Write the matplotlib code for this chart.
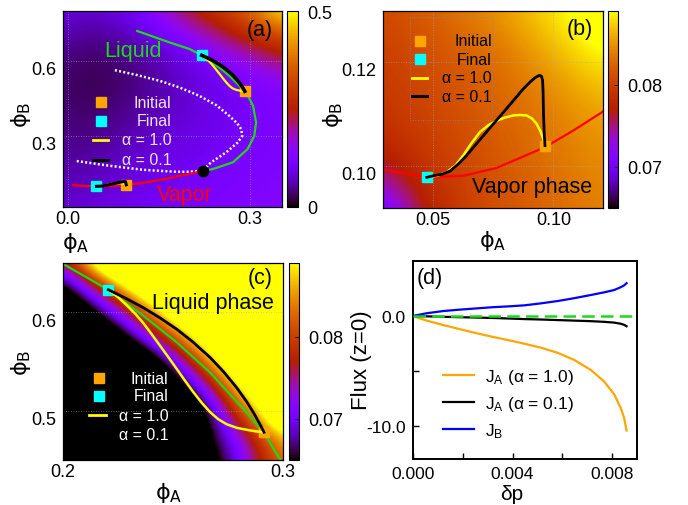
import numpy as np
import matplotlib
matplotlib.use("Agg")
import matplotlib.pyplot as plt
from matplotlib.patches import Rectangle
from matplotlib.transforms import ScaledTranslation

plt.rcParams["font.family"] = ["Liberation Sans", "DejaVu Sans"]
plt.rcParams["mathtext.fontset"] = "custom"
plt.rcParams["mathtext.rm"] = "Liberation Sans"
plt.rcParams["mathtext.it"] = "Liberation Sans:italic"
plt.rcParams["axes.unicode_minus"] = False

ORANGE = "#FFA500"
CYAN = "#00FFFF"
YELLOW = "#FFFF00"
GREEN = "#1ED81E"
RED = "#FF0000"

# liquid binodal (green), from the critical point upwards
liq_x = [0.2226, 0.239, 0.272, 0.296, 0.307, 0.310, 0.305, 0.2986, 0.291, 0.282,
         0.2668, 0.2517, 0.2365, 0.2206, 0.2009, 0.168, 0.1145]
liq_y = [0.159, 0.167, 0.194, 0.247, 0.300, 0.354, 0.420, 0.4515, 0.479, 0.502,
         0.5391, 0.5694, 0.5963, 0.6225, 0.6475, 0.674, 0.720]

# vapor binodal (red)
vap_x = [0.0095, 0.0283, 0.0476, 0.0627, 0.0765, 0.0965, 0.1082, 0.120, 0.135,
         0.160, 0.184, 0.205, 0.2226]
vap_y = [0.1020, 0.0994, 0.0978, 0.0981, 0.0996, 0.1036, 0.1068, 0.1103, 0.116,
         0.127, 0.140, 0.150, 0.159]

# spinodal (white dotted)
spin_x = [0.078, 0.115, 0.152, 0.185, 0.217, 0.245, 0.266, 0.279, 0.2856, 0.2872,
          0.280, 0.261, 0.236, 0.2226, 0.200, 0.179, 0.124, 0.0697, 0.0123]
spin_y = [0.563, 0.543, 0.520, 0.493, 0.460, 0.422, 0.380, 0.350, 0.327, 0.300,
          0.274, 0.234, 0.194, 0.160, 0.156, 0.156, 0.164, 0.180, 0.200]

crit = (0.2226, 0.159)

# vapor-side trajectories
vap_init = (0.0965, 0.1039)
vap_final = (0.0476, 0.0978)
vap_a1_x = [0.0476, 0.0520, 0.0559, 0.0595, 0.0627, 0.0660, 0.0696, 0.0730, 0.0765,
            0.0800, 0.0834, 0.0862, 0.0889, 0.0912, 0.0930, 0.0946, 0.0958, 0.0965]
vap_a1_y = [0.0978, 0.0981, 0.0988, 0.1001, 0.1020, 0.1043, 0.1065, 0.1078, 0.1087,
            0.1093, 0.1097, 0.1098, 0.1097, 0.1091, 0.1081, 0.1067, 0.1052, 0.1039]
vap_a01_x = [0.0476, 0.0503, 0.0540, 0.0572, 0.0605, 0.0641, 0.0675, 0.0710, 0.0750,
             0.0793, 0.0835, 0.0875, 0.0905, 0.0925, 0.0941, 0.0950, 0.0955, 0.0957,
             0.0959, 0.0962, 0.0965]
vap_a01_y = [0.0978, 0.0981, 0.0984, 0.0990, 0.1003, 0.1020, 0.1039, 0.1058, 0.1080,
             0.1103, 0.1126, 0.1148, 0.1162, 0.1170, 0.1174, 0.1173, 0.1165, 0.1145,
             0.1100, 0.1060, 0.1039]

# liquid-side trajectories
liq_init = (0.2914, 0.4785)
liq_final = (0.2206, 0.6225)
liq_a1_x = [0.2206, 0.2250, 0.2290, 0.2330, 0.2365, 0.2400, 0.2440, 0.2480, 0.2517,
            0.2555, 0.2592, 0.2630, 0.2668, 0.2705, 0.2744, 0.2790, 0.2835, 0.2875, 0.2914]
liq_a1_y = [0.6225, 0.6150, 0.6068, 0.5978, 0.5888, 0.5785, 0.5663, 0.5540, 0.5425,
            0.5305, 0.5192, 0.5085, 0.4990, 0.4918, 0.4866, 0.4830, 0.4810, 0.4795, 0.4785]
liq_a01_x = [0.2206, 0.2290, 0.2365, 0.2440, 0.2517, 0.2590, 0.2668, 0.2730, 0.2790,
             0.2835, 0.2870, 0.2895, 0.2914]
liq_a01_y = [0.6225, 0.6133, 0.6043, 0.5942, 0.5826, 0.5698, 0.5542, 0.5396, 0.5234,
             0.5094, 0.4968, 0.4866, 0.4785]

# background fields (rows bottom -> top)
field_a_x = [-0.01, 0.035, 0.08, 0.125, 0.17, 0.215, 0.26, 0.305, 0.35]
field_a_y = [0.0, 0.1, 0.2, 0.3, 0.4, 0.5, 0.6, 0.7, 0.8]
field_a = [
    [0.075, 0.085, 0.095, 0.105, 0.115, 0.120, 0.125, 0.130, 0.135],
    [0.065, 0.072, 0.082, 0.092, 0.102, 0.110, 0.118, 0.124, 0.130],
    [0.055, 0.058, 0.070, 0.082, 0.092, 0.100, 0.110, 0.118, 0.124],
    [0.045, 0.043, 0.055, 0.070, 0.082, 0.092, 0.102, 0.112, 0.120],
    [0.040, 0.033, 0.042, 0.056, 0.072, 0.086, 0.098, 0.110, 0.122],
    [0.036, 0.026, 0.033, 0.048, 0.066, 0.084, 0.100, 0.116, 0.135],
    [0.042, 0.030, 0.036, 0.050, 0.072, 0.098, 0.128, 0.165, 0.215],
    [0.062, 0.048, 0.055, 0.075, 0.110, 0.160, 0.220, 0.275, 0.330],
    [0.085, 0.075, 0.088, 0.120, 0.195, 0.265, 0.320, 0.380, 0.500],
]

field_b_x = [0.03, 0.045, 0.06, 0.075, 0.09, 0.105, 0.12]
field_b_y = [0.090, 0.098, 0.106, 0.114, 0.122, 0.130]
field_b = [
    [0.0680, 0.0760, 0.0795, 0.0810, 0.0820, 0.0830, 0.0840],
    [0.0750, 0.0785, 0.0800, 0.0815, 0.0825, 0.0835, 0.0845],
    [0.0785, 0.0800, 0.0810, 0.0820, 0.0830, 0.0840, 0.0850],
    [0.0795, 0.0805, 0.0815, 0.0825, 0.0835, 0.0850, 0.0865],
    [0.0800, 0.0810, 0.0820, 0.0830, 0.0850, 0.0870, 0.0890],
    [0.0810, 0.0820, 0.0835, 0.0850, 0.0870, 0.0890, 0.0920],
]

field_c_x = [0.20, 0.21, 0.22, 0.23, 0.24, 0.25, 0.26, 0.27, 0.28, 0.29, 0.30]
field_c_y = [0.45, 0.47, 0.49, 0.51, 0.53, 0.55, 0.57, 0.59, 0.61, 0.63, 0.65]
field_c = [
    [0.041, 0.041, 0.041, 0.041, 0.045, 0.052, 0.058, 0.064, 0.070, 0.077, 0.083],
    [0.041, 0.041, 0.041, 0.041, 0.045, 0.052, 0.059, 0.066, 0.072, 0.079, 0.086],
    [0.041, 0.041, 0.041, 0.041, 0.041, 0.050, 0.059, 0.068, 0.077, 0.086, 0.095],
    [0.041, 0.041, 0.041, 0.041, 0.044, 0.054, 0.063, 0.073, 0.083, 0.092, 0.102],
    [0.041, 0.041, 0.041, 0.042, 0.051, 0.061, 0.071, 0.080, 0.090, 0.100, 0.109],
    [0.041, 0.041, 0.041, 0.051, 0.060, 0.070, 0.079, 0.088, 0.098, 0.107, 0.113],
    [0.041, 0.046, 0.054, 0.063, 0.071, 0.079, 0.087, 0.096, 0.104, 0.112, 0.113],
    [0.048, 0.056, 0.064, 0.072, 0.080, 0.088, 0.096, 0.104, 0.112, 0.113, 0.113],
    [0.057, 0.065, 0.073, 0.081, 0.089, 0.098, 0.106, 0.113, 0.113, 0.113, 0.113],
    [0.065, 0.074, 0.083, 0.092, 0.101, 0.110, 0.113, 0.113, 0.113, 0.113, 0.113],
    [0.076, 0.087, 0.098, 0.109, 0.113, 0.113, 0.113, 0.113, 0.113, 0.113, 0.113],
]

# panel (d): flux at z=0 vs pressure step
dp = [0, 0.00056, 0.00122, 0.00189, 0.00255, 0.00321, 0.00388, 0.00448, 0.00514,
      0.00581, 0.00647, 0.00714, 0.00767, 0.00807, 0.00833, 0.00847, 0.00857]
ja_10 = [0, -0.42, -0.82, -1.20, -1.56, -1.90, -2.22, -2.52, -2.88, -3.35, -3.99,
         -4.91, -5.95, -7.11, -8.33, -9.25, -10.41]
ja_01 = [0, -0.03, -0.07, -0.11, -0.14, -0.18, -0.23, -0.28, -0.32, -0.37, -0.42,
         -0.47, -0.53, -0.60, -0.70, -0.80, -0.93]
jb = [0, 0.25, 0.45, 0.58, 0.69, 0.80, 0.88, 0.97, 1.15, 1.36, 1.62, 1.91, 2.15,
      2.36, 2.61, 2.78, 2.98]

fig = plt.figure(figsize=(6.88, 5.06), dpi=100)
W, H = 688.0, 506.0


def box(x0, y0, x1, y1):
    return [x0 / W, 1 - y1 / H, (x1 - x0) / W, (y1 - y0) / H]


ax_a = fig.add_axes(box(63, 12, 282, 208))
cax_a = fig.add_axes(box(287, 12, 298, 208))
ax_b = fig.add_axes(box(383, 12, 603, 209))
cax_b = fig.add_axes(box(608, 12, 618, 209))
ax_c = fig.add_axes(box(63, 264, 283, 461))
cax_c = fig.add_axes(box(289, 264, 299, 461))
ax_d = fig.add_axes(box(412.7, 262, 637.3, 460))


def heat(ax, cax, field, xn, yn, vmin, vmax, cticks, clabels):
    dx = xn[1] - xn[0]
    dy = yn[1] - yn[0]
    im = ax.imshow(np.array(field), origin="lower", cmap="gnuplot", vmin=vmin, vmax=vmax,
                   extent=(xn[0] - dx / 2, xn[-1] + dx / 2, yn[0] - dy / 2, yn[-1] + dy / 2),
                   interpolation="bicubic", interpolation_stage="data", aspect="auto", zorder=0)
    cb = fig.colorbar(im, cax=cax)
    cb.set_ticks(cticks, labels=clabels)
    cb.ax.tick_params(labelsize=13, length=3, width=0.6, direction="in", pad=7)
    cb.outline.set_linewidth(0.8)
    ax.grid(True, ls=(0, (1, 2)), color="#aaaaaa", lw=0.6, alpha=0.7)
    ax.tick_params(labelsize=13, length=0)
    ax.tick_params(axis="x", pad=2)
    ax.tick_params(axis="y", pad=5)
    for s in ax.spines.values():
        s.set_linewidth(0.9)


def drop_ylabels(ax, px=7):
    off = ScaledTranslation(0, -px / 100.0, fig.dpi_scale_trans)
    for t in ax.get_yticklabels():
        t.set_transform(t.get_transform() + off)


def key(ax, sx, lx0, lx1, tx, ys, tcolor):
    ax.plot([sx], [ys[0]], "s", color=ORANGE, ms=7.5, transform=ax.transAxes)
    ax.plot([sx], [ys[1]], "s", color=CYAN, ms=7.5, transform=ax.transAxes)
    ax.plot([lx0, lx1], [ys[2], ys[2]], color=YELLOW, lw=2, transform=ax.transAxes)
    ax.plot([lx0, lx1], [ys[3], ys[3]], color="black", lw=2.2, transform=ax.transAxes)
    for y, s in zip(ys, ["Initial", "Final", "α = 1.0", "α = 0.1"]):
        ax.text(tx, y, s, transform=ax.transAxes, ha="right", va="center",
                color=tcolor, fontsize=11.5)


def phi_labels(ax, xl, yl):
    ax.set_xlabel(r"$\mathrm{\phi_A}$", fontsize=16, math_fontfamily="dejavusans")
    ax.set_ylabel(r"$\mathrm{\phi_B}$", fontsize=16, math_fontfamily="dejavusans")
    ax.xaxis.set_label_coords(*xl)
    ax.yaxis.set_label_coords(*yl)
    ax.xaxis.label.set_va("center")
    ax.yaxis.label.set_va("center")


# ---------------- (a) ----------------
heat(ax_a, cax_a, field_a, field_a_x, field_a_y, 0.0, 0.5, [0, 0.5], ["0", "0.5"])
ax_a.plot(spin_x, spin_y, color="white", lw=1.8, ls=(0, (0.8, 0.9)), zorder=2)
ax_a.plot(vap_x, vap_y, color=RED, lw=1.6, zorder=2)
ax_a.plot(liq_x, liq_y, color=GREEN, lw=1.6, zorder=2)
ax_a.plot(*crit, "o", color="black", ms=7.5, zorder=3)
ax_a.plot(*vap_init, "s", color=ORANGE, ms=7.5, zorder=3)
ax_a.plot(*liq_init, "s", color=ORANGE, ms=7.5, zorder=3)
ax_a.plot(*vap_final, "s", color=CYAN, ms=7.5, zorder=3)
ax_a.plot(*liq_final, "s", color=CYAN, ms=7.5, zorder=3)
ax_a.plot(vap_a1_x, vap_a1_y, color=YELLOW, lw=1.6, zorder=4)
ax_a.plot(vap_a01_x, vap_a01_y, color="black", lw=2.2, zorder=4)
ax_a.plot(liq_a1_x, liq_a1_y, color=YELLOW, lw=1.6, zorder=4)
ax_a.plot(liq_a01_x, liq_a01_y, color="black", lw=2.6, zorder=4)
ax_a.set_xlim(-0.0074, 0.3526)
ax_a.set_ylim(0.015, 0.80)
ax_a.set_xticks([0.0, 0.3], labels=["0.0", "0.3"])
ax_a.set_yticks([0.3, 0.6], labels=["0.3", "0.6"])
drop_ylabels(ax_a)
ax_a.text(0.32, 0.796, "Liquid", color=GREEN, fontsize=15.5, ha="center", va="center",
          transform=ax_a.transAxes)
ax_a.text(0.557, 0.066, "Vapor", color=RED, fontsize=15.5, ha="center", va="center",
          transform=ax_a.transAxes)
ax_a.text(0.90, 0.908, "(a)", fontsize=15.5, ha="center", va="center", transform=ax_a.transAxes)
key(ax_a, 0.1735, 0.137, 0.205, 0.496, [0.534, 0.440, 0.343, 0.241], "#ece4ff")
phi_labels(ax_a, (0.059, -0.18), (-0.192, 0.474))

# ---------------- (b) ----------------
heat(ax_b, cax_b, field_b, field_b_x, field_b_y, 0.065, 0.089, [0.07, 0.08], ["0.07", "0.08"])
ax_b.plot(vap_x, vap_y, color=RED, lw=1.6, zorder=2)
ax_b.plot(*vap_init, "s", color=ORANGE, ms=7.5, zorder=3)
ax_b.plot(*vap_final, "s", color=CYAN, ms=7.5, zorder=3)
ax_b.plot(vap_a1_x, vap_a1_y, color=YELLOW, lw=1.8, zorder=4)
ax_b.plot(vap_a01_x, vap_a01_y, color="black", lw=2.0, zorder=4)
ax_b.set_xlim(0.0295, 0.1205)
ax_b.set_ylim(0.0919, 0.1298)
ax_b.set_xticks([0.05, 0.10], labels=["0.05", "0.10"])
ax_b.set_yticks([0.10, 0.12], labels=["0.10", "0.12"])
drop_ylabels(ax_b)
ax_b.add_patch(Rectangle((0.121, 0.448), 0.376, 0.52, transform=ax_b.transAxes, fill=False,
                         ls=(0, (1, 2)), lw=0.6, ec="#888888", zorder=3))
key(ax_b, 0.168, 0.133, 0.201, 0.494, [0.849, 0.756, 0.660, 0.567], "black")
ax_b.text(0.677, 0.108, "Vapor phase", fontsize=15.5, ha="center", va="center",
          transform=ax_b.transAxes)
ax_b.text(0.895, 0.909, "(b)", fontsize=15.5, ha="center", va="center", transform=ax_b.transAxes)
phi_labels(ax_b, (0.5, -0.16), (-0.227, 0.477))

# ---------------- (c) ----------------
heat(ax_c, cax_c, field_c, field_c_x, field_c_y, 0.065, 0.089, [0.07, 0.08], ["0.07", "0.08"])
ax_c.plot(liq_x, liq_y, color=GREEN, lw=1.6, zorder=2)
ax_c.plot(*liq_init, "s", color=ORANGE, ms=7.5, zorder=3)
ax_c.plot(*liq_final, "s", color=CYAN, ms=7.5, zorder=3)
ax_c.plot(liq_a1_x, liq_a1_y, color=YELLOW, lw=1.8, zorder=4)
ax_c.plot(liq_a01_x, liq_a01_y, color="black", lw=2.0, zorder=4)
ax_c.set_xlim(0.2, 0.3)
ax_c.set_ylim(0.4505, 0.6495)
ax_c.set_xticks([0.2, 0.3], labels=["0.2", "0.3"])
ax_c.set_yticks([0.5, 0.6], labels=["0.5", "0.6"])
drop_ylabels(ax_c)
key(ax_c, 0.164, 0.12, 0.195, 0.478, [0.416, 0.325, 0.227, 0.129], "white")
ax_c.text(0.68, 0.798, "Liquid phase", fontsize=15.5, ha="center", va="center",
          transform=ax_c.transAxes)
ax_c.text(0.895, 0.924, "(c)", fontsize=15.5, ha="center", va="center", transform=ax_c.transAxes)
phi_labels(ax_c, (0.48, -0.16), (-0.191, 0.497))

# ---------------- (d) ----------------
ax_d.plot(dp, ja_10, color=ORANGE, lw=1.6, label=r"J$_\mathrm{A}$ (α = 1.0)")
ax_d.plot(dp, ja_01, color="black", lw=1.6, label=r"J$_\mathrm{A}$ (α = 0.1)")
ax_d.plot(dp, jb, color="#0000FF", lw=1.6, label=r"J$_\mathrm{B}$")
ax_d.axhline(0, color=GREEN, lw=1.8, ls=(0, (5, 2.5)), zorder=5)
ax_d.set_xlim(0, 0.009)
ax_d.set_ylim(-13, 5)
ax_d.set_xticks([0, 0.004, 0.008], labels=["0.000", "0.004", "0.008"])
ax_d.set_xticks([0.002, 0.006], minor=True)
ax_d.set_yticks([-10, 0], labels=["-10.0", "0.0"])
ax_d.set_yticks([-5], minor=True)
ax_d.tick_params(which="both", direction="in", length=4, width=1, labelsize=12.5)
ax_d.tick_params(axis="x", pad=5)
ax_d.tick_params(axis="y", pad=5)
for s in ax_d.spines.values():
    s.set_linewidth(1.4)
ax_d.set_xlabel("δp", fontsize=15)
ax_d.set_ylabel("Flux (z=0)", fontsize=16)
ax_d.xaxis.set_label_coords(0.442, -0.175)
ax_d.yaxis.set_label_coords(-0.226, 0.505)
ax_d.xaxis.label.set_va("center")
ax_d.yaxis.label.set_va("center")
ax_d.text(0.077, 0.919, "(d)", fontsize=15.5, ha="center", va="center", transform=ax_d.transAxes)
ax_d.legend(loc="center left", bbox_to_anchor=(0.136, 0.28), frameon=False, fontsize=12.5,
            handlelength=1.75, handletextpad=0.65, labelspacing=0.45, borderpad=0,
            borderaxespad=0)

fig.savefig("out.png", dpi=100)
